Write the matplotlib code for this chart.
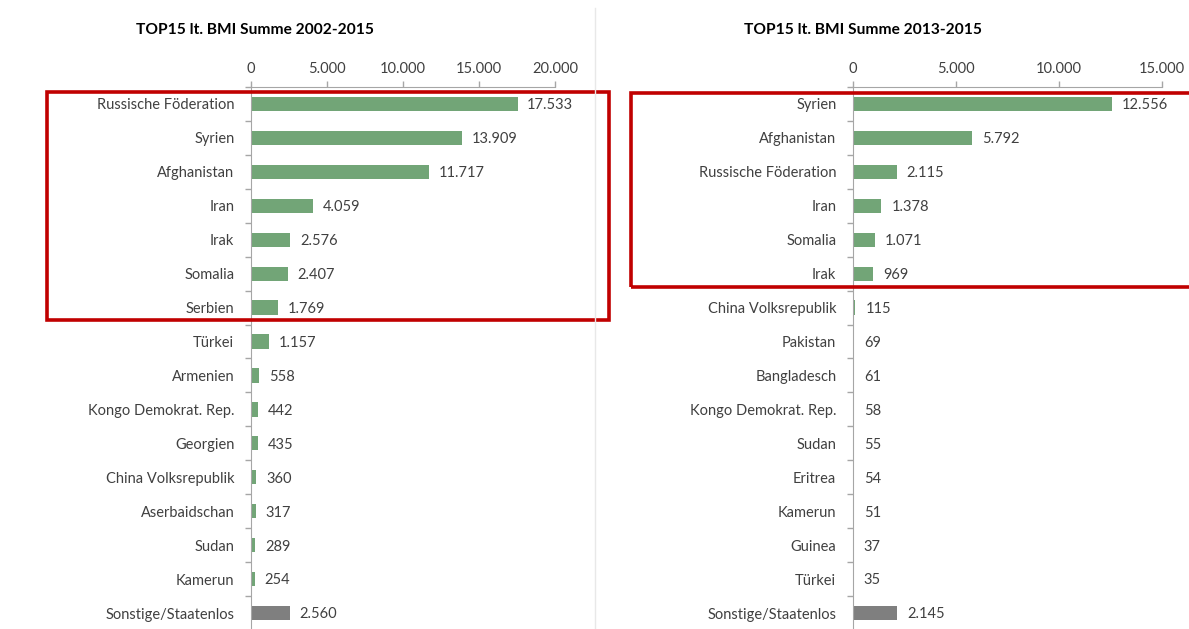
import matplotlib
matplotlib.use("Agg")
import matplotlib.pyplot as plt
from matplotlib.patches import Rectangle
from matplotlib.lines import Line2D
from matplotlib.ticker import FixedLocator, FuncFormatter

plt.rcParams['font.family'] = ['Lato', 'DejaVu Sans']

left_title = "TOP15 lt. BMI Summe 2002-2015"
left_cats = ["Russische Föderation", "Syrien", "Afghanistan", "Iran", "Irak", "Somalia",
             "Serbien", "Türkei", "Armenien", "Kongo Demokrat. Rep.", "Georgien",
             "China Volksrepublik", "Aserbaidschan", "Sudan", "Kamerun", "Sonstige/Staatenlos"]
left_vals = [17533, 13909, 11717, 4059, 2576, 2407, 1769, 1157, 558, 442, 435, 360, 317, 289, 254, 2560]
left_ticks = [0, 5000, 10000, 15000, 20000]

right_title = "TOP15 lt. BMI Summe 2013-2015"
right_cats = ["Syrien", "Afghanistan", "Russische Föderation", "Iran", "Somalia", "Irak",
              "China Volksrepublik", "Pakistan", "Bangladesch", "Kongo Demokrat. Rep.", "Sudan",
              "Eritrea", "Kamerun", "Guinea", "Türkei", "Sonstige/Staatenlos"]
right_vals = [12556, 5792, 2115, 1378, 1071, 969, 115, 69, 61, 58, 55, 54, 51, 37, 35, 2145]
right_ticks = [0, 5000, 10000, 15000]

W, H = 1189, 629
fig = plt.figure(figsize=(W / 100, H / 100), dpi=100)

green = "#72A577"
grey = "#7F7F7F"
txt = "#404040"
axcol = "#A6A6A6"


def fmt(v):
    return f"{v:,.0f}".replace(",", ".")


def panel(x0, x1, cats, vals, ticks, title, title_x):
    top, bottom = 87, 630
    ax = fig.add_axes([x0 / W, 1 - bottom / H, (x1 - x0) / W, (bottom - top) / H])
    n = len(cats)
    colors = [green] * (n - 1) + [grey]
    ypos = list(range(n))
    ax.barh(ypos, vals, height=0.42, color=colors, edgecolor="none")
    ax.set_xlim(ticks[0], ticks[-1])
    ax.set_ylim(n - 0.5, -0.5)
    ax.xaxis.tick_top()
    ax.set_xticks(ticks)
    ax.xaxis.set_major_formatter(FuncFormatter(lambda v, p: fmt(v)))
    ax.set_yticks(ypos)
    ax.set_yticklabels(cats)
    ax.yaxis.set_minor_locator(FixedLocator([i + 0.5 for i in range(-1, n)]))
    ax.tick_params(axis="y", which="major", length=0, pad=12, labelsize=10.5, labelcolor=txt)
    ax.tick_params(axis="y", which="minor", length=4, color=axcol, width=1)
    ax.tick_params(axis="x", which="major", length=4, color=axcol, width=1, pad=4,
                   labelsize=10.5, labelcolor=txt)
    for s in ["right", "bottom"]:
        ax.spines[s].set_visible(False)
    ax.spines["top"].set_color(axcol)
    ax.spines["left"].set_color(axcol)
    ax.patch.set_alpha(0)
    span = ticks[-1] - ticks[0]
    for y, v in zip(ypos, vals):
        ax.text(v + span * 0.032, y + 0.04, fmt(v), va="center", ha="left", fontsize=10.5, color=txt)
    fig.text(title_x / W, 1 - 30 / H, title, ha="center", va="center", fontsize=11.2,
             fontweight="bold", color="#000000")
    return ax


panel(251, 555, left_cats, left_vals, left_ticks, left_title, 255)
panel(853, 1162, right_cats, right_vals, right_ticks, right_title, 863)

# faint separator between panels
fig.add_artist(Line2D([595 / W, 595 / W], [0, 1 - 8 / H], color="#E8E8E8", lw=1))

# red highlight boxes
def box(x0, y0, x1, y1):
    fig.add_artist(Rectangle((x0 / W, 1 - y1 / H), (x1 - x0) / W, (y1 - y0) / H,
                             fill=False, edgecolor="#C00000", lw=2.6, transform=fig.transFigure))

box(47, 92, 609, 320)
box(631, 93, 1195, 287)

fig.savefig("out.png", dpi=100, facecolor="white")
